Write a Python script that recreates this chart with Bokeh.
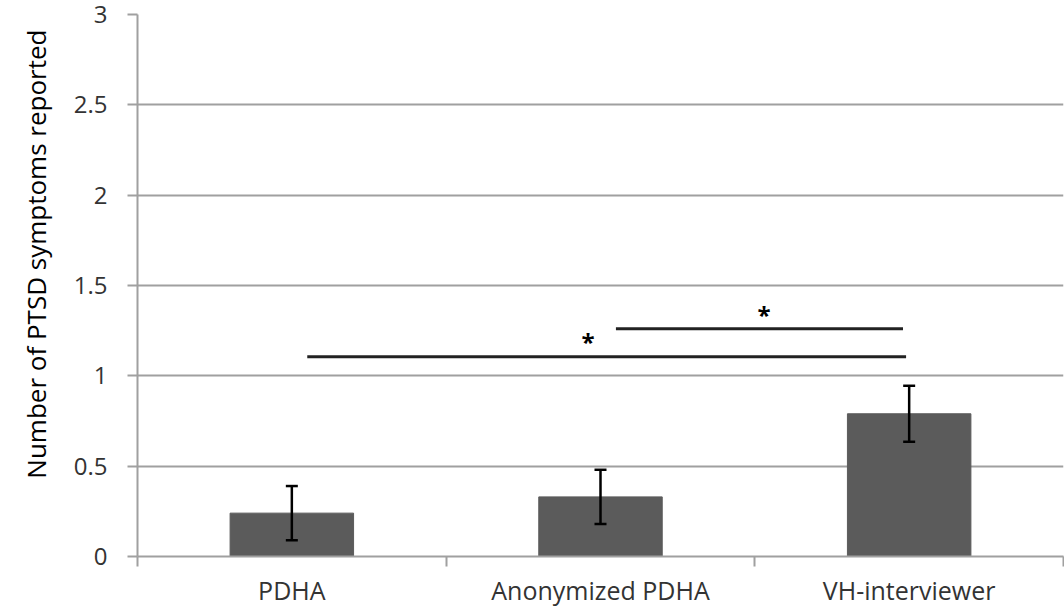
from bokeh.plotting import figure
from bokeh.models import (ColumnDataSource, Range1d, FixedTicker, Whisker, TeeHead, Title)
from bokeh.core.properties import value
from bokeh.embed import file_html
from bokeh.resources import INLINE

# ---- data ----
categories = ["PDHA", "Anonymized PDHA", "VH-interviewer"]
means = [0.24, 0.33, 0.79]
errors = [0.15, 0.15, 0.155]
y_ticks = [0, 0.5, 1, 1.5, 2, 2.5, 3]
y_tick_labels = ["0", "0.5", "1", "1.5", "2", "2.5", "3"]
y_label = "Number of PTSD symptoms reported"

# significance brackets (category-unit x, value y)
sig_x0 = [0.55, 1.55]
sig_x1 = [2.49, 2.48]
sig_y = [1.105, 1.26]
star_x = [1.46, 2.03]
star_y = [1.19, 1.34]
star_text = ["*", "*"]

FONT = "Open Sans"
GRID = "#a0a0a0"

xs = [i + 0.5 for i in range(len(categories))]
src = ColumnDataSource(dict(
    x=xs, top=means,
    upper=[m + e for m, e in zip(means, errors)],
    lower=[m - e for m, e in zip(means, errors)],
))

p = figure(width=1064, height=609, output_backend="svg", toolbar_location=None,
           x_range=Range1d(0, 3), y_range=Range1d(0, 3),
           min_border_left=137, min_border_right=1, min_border_top=14,
           min_border_bottom=52)
p.outline_line_color = None
p.background_fill_color = "white"

p.vbar(x="x", top="top", width=0.4, source=src, fill_color="#5b5b5b",
       line_color="#5b5b5b")

w = Whisker(base="x", upper="upper", lower="lower", source=src,
            line_color="black", line_width=2.5, level="overlay",
            upper_head=TeeHead(size=12, line_color="black", line_width=2.5),
            lower_head=TeeHead(size=12, line_color="black", line_width=2.5))
p.add_layout(w)

p.segment(x0=sig_x0, x1=sig_x1, y0=sig_y, y1=sig_y, line_color="#222222",
          line_width=3)
p.text(x=star_x, y=star_y, text=star_text, text_font=value(FONT),
       text_font_size="24px", text_font_style="bold", text_align="center",
       text_baseline="middle", text_color="black")

# x axis
xa = p.xaxis[0]
xa.ticker = FixedTicker(ticks=xs, minor_ticks=[0, 1, 2, 3])
xa.major_label_overrides = {x: c for x, c in zip(xs, categories)}
xa.major_tick_line_color = None
xa.minor_tick_line_color = GRID
xa.minor_tick_line_width = 2
xa.minor_tick_in = 0
xa.minor_tick_out = 10
xa.axis_line_color = GRID
xa.axis_line_width = 2
xa.major_label_text_font = FONT
xa.major_label_text_font_size = "25px"
xa.major_label_text_color = "#333333"
xa.major_label_standoff = 6

# y axis
ya = p.yaxis[0]
ya.ticker = FixedTicker(ticks=y_ticks)
ya.major_label_overrides = {t: l for t, l in zip(y_ticks, y_tick_labels)}
ya.minor_tick_line_color = None
ya.major_tick_line_color = GRID
ya.major_tick_line_width = 2
ya.major_tick_in = 0
ya.major_tick_out = 10
ya.axis_line_color = GRID
ya.axis_line_width = 2
ya.major_label_text_font = FONT
ya.major_label_text_font_size = "24px"
ya.major_label_text_color = "#333333"
ya.major_label_standoff = 20

# y axis title, placed as in the reference (shifted upward)
yt = Title(text=y_label, align="right", vertical_align="top", offset=15,
           standoff=30, text_font=FONT, text_font_size="26px",
           text_font_style="normal", text_color="black")
p.add_layout(yt, "left")

p.xgrid.grid_line_color = None
p.ygrid.ticker = FixedTicker(ticks=y_ticks)
p.ygrid.grid_line_color = GRID
p.ygrid.grid_line_width = 2

open("out.html", "w").write(file_html(p, INLINE))
